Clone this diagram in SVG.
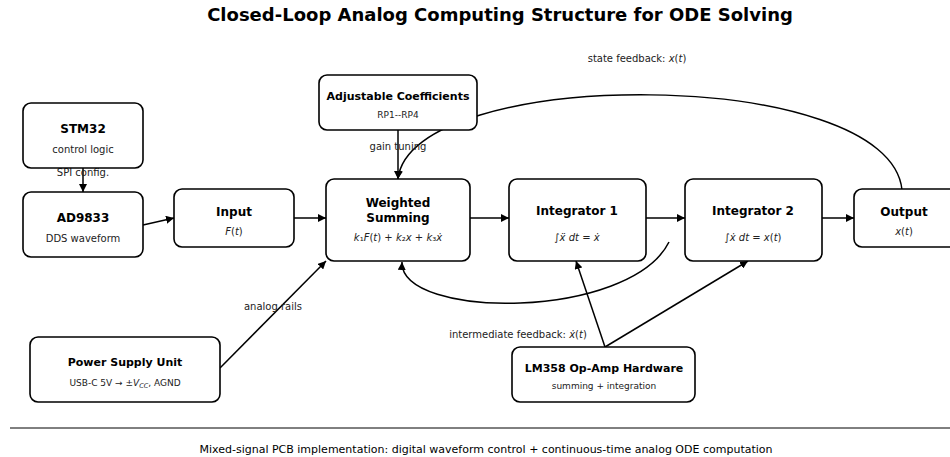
<svg xmlns="http://www.w3.org/2000/svg" width="950" height="457" viewBox="0 0 950 457">
<style>
text{font-family:"DejaVu Sans","Liberation Sans",sans-serif;fill:#000;text-anchor:middle}
.t{font-weight:bold;font-size:12px}
.t11{font-weight:bold;font-size:11px}
.s{font-size:10px;fill:#222}
.xs{font-size:9px;fill:#222}
.l{font-size:10px;fill:#222}
.i{font-style:italic}
.box{fill:#fff;stroke:#000;stroke-width:1.6}
.c{fill:none;stroke:#000;stroke-width:1.5}
</style>
<defs>
<marker id="ah" viewBox="0 0 10 10" refX="10" refY="5" markerWidth="8" markerHeight="8" markerUnits="userSpaceOnUse" orient="auto"><path d="M0,0L10,5L0,10z" fill="#000"/></marker>
</defs>
<rect width="950" height="457" fill="#fff"/>
<text x="500" y="21" style="font-weight:bold;font-size:18px">Closed-Loop Analog Computing Structure for ODE Solving</text>

<g id="connectors">
<path class="c" marker-end="url(#ah)" d="M83,168L83,192"/>
<path class="c" marker-end="url(#ah)" d="M143,225L174,218"/>
<path class="c" marker-end="url(#ah)" d="M294,218L326,218"/>
<path class="c" marker-end="url(#ah)" d="M398,130L398,179"/>
<path class="c" marker-end="url(#ah)" d="M470,218L509,218"/>
<path class="c" marker-end="url(#ah)" d="M646,218L685,218"/>
<path class="c" marker-end="url(#ah)" d="M822,218L854,218"/>
<path class="c" marker-end="url(#ah)" d="M902,190C890,65 410,65 398,179"/>
<path class="c" marker-end="url(#ah)" d="M669,242C630,320 400,320 402,262"/>
<path class="c" marker-end="url(#ah)" d="M220,368L326,261"/>
<path class="c" marker-end="url(#ah)" d="M605,347L576,261"/>
<path class="c" marker-end="url(#ah)" d="M605,347L748,261"/>
<text class="l" x="83" y="176">SPI config.</text>
<text class="l" x="398" y="150">gain tuning</text>
<text class="l" x="637" y="62">state feedback: <tspan class="i">x</tspan>(<tspan class="i">t</tspan>)</text>
<text class="l" x="518" y="338">intermediate feedback: <tspan class="i">ẋ</tspan>(<tspan class="i">t</tspan>)</text>
<text class="l" x="273" y="310">analog rails</text>
</g>

<g id="stm32"><rect class="box" x="23" y="103" width="120" height="65" rx="8"/><text class="t" x="83" y="133">STM32</text><text class="s" x="83" y="153">control logic</text></g>
<g id="ad9833"><rect class="box" x="23" y="192" width="120" height="65" rx="8"/><text class="t" x="83" y="222">AD9833</text><text class="s" x="83" y="242">DDS waveform</text></g>
<g id="input"><rect class="box" x="174" y="189" width="120" height="58" rx="8"/><text class="t" x="234" y="216">Input</text><text class="s" x="234" y="235"><tspan class="i">F</tspan>(<tspan class="i">t</tspan>)</text></g>
<g id="coeff"><rect class="box" x="319" y="75" width="158" height="55" rx="8"/><text class="t11" x="398" y="100">Adjustable Coefficients</text><text class="xs" x="398" y="118">RP1--RP4</text></g>
<g id="summing"><rect class="box" x="326" y="179" width="144" height="82" rx="8"/><text class="t" x="398" y="207">Weighted</text><text class="t" x="398" y="222">Summing</text><text class="s" x="398" y="241"><tspan class="i">k</tspan>₁<tspan class="i">F</tspan>(<tspan class="i">t</tspan>) + <tspan class="i">k</tspan>₂<tspan class="i">x</tspan> + <tspan class="i">k</tspan>₃<tspan class="i">ẋ</tspan></text></g>
<g id="int1"><rect class="box" x="509" y="179" width="137" height="82" rx="8"/><text class="t" x="577" y="215">Integrator 1</text><text class="s" x="577" y="241">∫<tspan class="i">ẍ dt</tspan> = <tspan class="i">ẋ</tspan></text></g>
<g id="int2"><rect class="box" x="685" y="179" width="137" height="82" rx="8"/><text class="t" x="753" y="215">Integrator 2</text><text class="s" x="753" y="241">∫<tspan class="i">ẋ dt</tspan> = <tspan class="i">x</tspan>(<tspan class="i">t</tspan>)</text></g>
<g id="output"><rect class="box" x="854" y="189" width="104" height="58" rx="8"/><text class="t" x="904" y="216">Output</text><text class="s" x="904" y="235"><tspan class="i">x</tspan>(<tspan class="i">t</tspan>)</text></g>
<g id="psu"><rect class="box" x="30" y="337" width="190" height="65" rx="8"/><text class="t11" x="125" y="366">Power Supply Unit</text><text class="xs" x="125" y="386">USB-C 5V → ±<tspan class="i">V</tspan><tspan class="i" font-size="6.5" dy="2">CC</tspan><tspan dy="-2">, AGND</tspan></text></g>
<g id="lm358"><rect class="box" x="512" y="347" width="183" height="55" rx="8"/><text class="t11" x="604" y="372">LM358 Op-Amp Hardware</text><text class="xs" x="604" y="389">summing + integration</text></g>

<line x1="10" y1="428" x2="950" y2="428" stroke="#000" stroke-width="1"/>
<text x="486" y="453" style="font-size:11px">Mixed-signal PCB implementation: digital waveform control + continuous-time analog ODE computation</text>
</svg>
